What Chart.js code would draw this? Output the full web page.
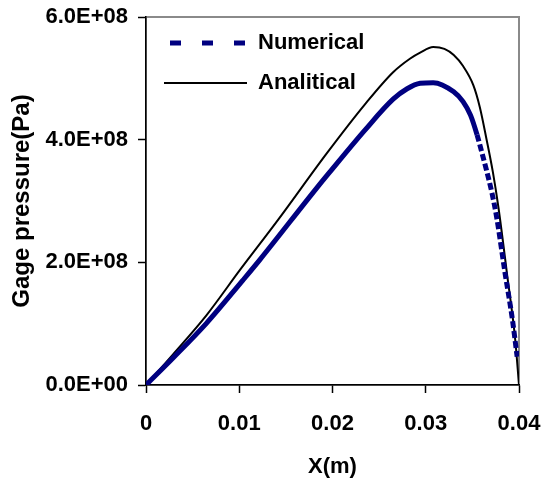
<!DOCTYPE html>
<html>
<head>
<meta charset="utf-8">
<script src="https://cdn.jsdelivr.net/npm/chart.js@4/dist/chart.umd.min.js"></script>
<style>
  html, body { margin: 0; padding: 0; background: #fff; }
  #wrap { width: 544px; height: 486px; }
</style>
</head>
<body>
<div id="wrap"><canvas id="chartCanvas" width="544" height="486"></canvas></div>
<script>
// Gage pressure vs X
const xNum = [0, 0.0029, 0.0065, 0.0104, 0.0122, 0.0183, 0.0197, 0.0235, 0.0265, 0.0280, 0.0294, 0.0308, 0.0330, 0.0340, 0.0348, 0.0355, 0.0360, 0.0365, 0.0371, 0.0376, 0.0385, 0.0393, 0.0398];
const pNum = [0, 0.44e8, 1.01e8, 1.71e8, 2.04e8, 3.21e8, 3.47e8, 4.16e8, 4.66e8, 4.83e8, 4.92e8, 4.93e8, 4.78e8, 4.62e8, 4.40e8, 4.08e8, 3.80e8, 3.51e8, 3.13e8, 2.74e8, 1.83e8, 1.06e8, 0.46e8];

const xAna = [0, 0.0029, 0.0065, 0.0101, 0.0142, 0.0194, 0.0235, 0.0265, 0.0283, 0.0294, 0.0308, 0.0320, 0.0330, 0.0340, 0.0351, 0.0358, 0.0365, 0.0372, 0.0378, 0.0387, 0.0396, 0.0400];
const pAna = [0, 0.50e8, 1.14e8, 1.88e8, 2.70e8, 3.78e8, 4.58e8, 5.10e8, 5.32e8, 5.42e8, 5.51e8, 5.48e8, 5.38e8, 5.20e8, 4.89e8, 4.53e8, 4.02e8, 3.47e8, 2.89e8, 1.83e8, 0.73e8, 0];

const seriesNames = ['Numerical', 'Analitical'];
const xTicks = [0, 0.01, 0.02, 0.03, 0.04];
const yTicks = [0, 2e8, 4e8, 6e8];

const FONT = "'Liberation Sans', Arial, sans-serif";
const NAVY = '#000080';

function toPoints(xs, ys) {
  return xs.map((x, i) => ({ x: x, y: ys[i] }));
}

// 6.0E+08 style labels
function sci(v) {
  const parts = v.toExponential(1).split('e');
  const exp = parts[1];
  return parts[0] + 'E' + exp[0] + exp.slice(1).padStart(2, '0');
}

// gray plot-area frame like the original (drawn before the axes)
const frame = {
  id: 'frame',
  beforeDraw(chart) {
    const { ctx, chartArea: a } = chart;
    ctx.save();
    ctx.strokeStyle = '#8a8a8a';
    ctx.lineWidth = 2;
    ctx.strokeRect(a.left, a.top, a.right - a.left, a.bottom - a.top);
    ctx.restore();
  }
};

// keep the legend box inside the top-left of the plot area
const legendSpot = {
  id: 'legendSpot',
  afterLayout(chart) {
    const lg = chart.legend;
    const h = lg.bottom - lg.top;
    lg.left = chart.chartArea.left;
    lg.top = chart.chartArea.top - 3;
    lg.bottom = lg.top + h;
  }
};

const legendStyles = [
  { color: NAVY, width: 5, dash: [11, 21] },
  { color: '#000', width: 2, dash: [] }
];

new Chart(document.getElementById('chartCanvas').getContext('2d'), {
  type: 'line',
  data: {
    datasets: [
      {
        label: seriesNames[0],
        data: toPoints(xNum, pNum),
        borderColor: NAVY,
        borderWidth: 5,
        pointRadius: 0,
        cubicInterpolationMode: 'monotone',
        segment: {
          borderDash: ctx => xNum[ctx.p0DataIndex] >= 0.0355 ? [7, 3] : undefined
        }
      },
      {
        label: seriesNames[1],
        data: toPoints(xAna, pAna),
        borderColor: '#000',
        borderWidth: 2,
        pointRadius: 0,
        cubicInterpolationMode: 'monotone'
      }
    ]
  },
  options: {
    responsive: false,
    animation: false,
    layout: { padding: { top: 17, right: 25, left: 0, bottom: 0 } },
    plugins: {
      tooltip: { enabled: false },
      legend: {
        position: 'chartArea',
        align: 'start',
        labels: {
          usePointStyle: true,
          pointStyle: 'line',
          pointStyleWidth: 83,
          padding: 18,
          color: '#000',
          font: { family: FONT, size: 22, weight: 'bold' },
          generateLabels: chart => chart.data.datasets.map((d, i) => ({
            text: d.label,
            strokeStyle: legendStyles[i].color,
            fillStyle: legendStyles[i].color,
            lineWidth: legendStyles[i].width,
            lineDash: legendStyles[i].dash,
            lineDashOffset: 26,
            pointStyle: 'line',
            fontColor: '#000',
            datasetIndex: i
          }))
        }
      }
    },
    scales: {
      x: {
        type: 'linear',
        min: 0,
        max: 0.04,
        afterBuildTicks: s => { s.ticks = xTicks.map(v => ({ value: v })); },
        afterFit: s => { s.height = 101; s.paddingLeft = 0; s.paddingRight = 0; },
        border: { color: '#000', width: 1.5 },
        grid: { drawOnChartArea: false, tickLength: 8, color: '#000', tickWidth: 1.5 },
        ticks: {
          padding: 18,
          color: '#000',
          maxRotation: 0,
          font: { family: FONT, size: 22, weight: 'bold' },
          callback: v => String(+v.toFixed(2))
        },
        title: {
          display: true,
          text: 'X(m)',
          color: '#000',
          padding: { top: 0, bottom: 6 },
          font: { family: FONT, size: 22, weight: 'bold' }
        }
      },
      y: {
        min: 0,
        max: 6e8,
        afterBuildTicks: s => { s.ticks = yTicks.map(v => ({ value: v })); },
        afterFit: s => { s.width = 146; s.paddingTop = 0; s.paddingBottom = 0; },
        border: { color: '#000', width: 1.5 },
        grid: { drawOnChartArea: false, tickLength: 8, color: '#000', tickWidth: 1.5 },
        ticks: {
          padding: 10,
          color: '#000',
          font: { family: FONT, size: 22, weight: 'bold' },
          callback: v => sci(v)
        },
        title: {
          display: true,
          text: 'Gage pressure(Pa)',
          color: '#000',
          padding: { top: 8, bottom: 0 },
          font: { family: FONT, size: 24, weight: 'bold' }
        }
      }
    }
  },
  plugins: [frame, legendSpot]
});
</script>
</body>
</html>
